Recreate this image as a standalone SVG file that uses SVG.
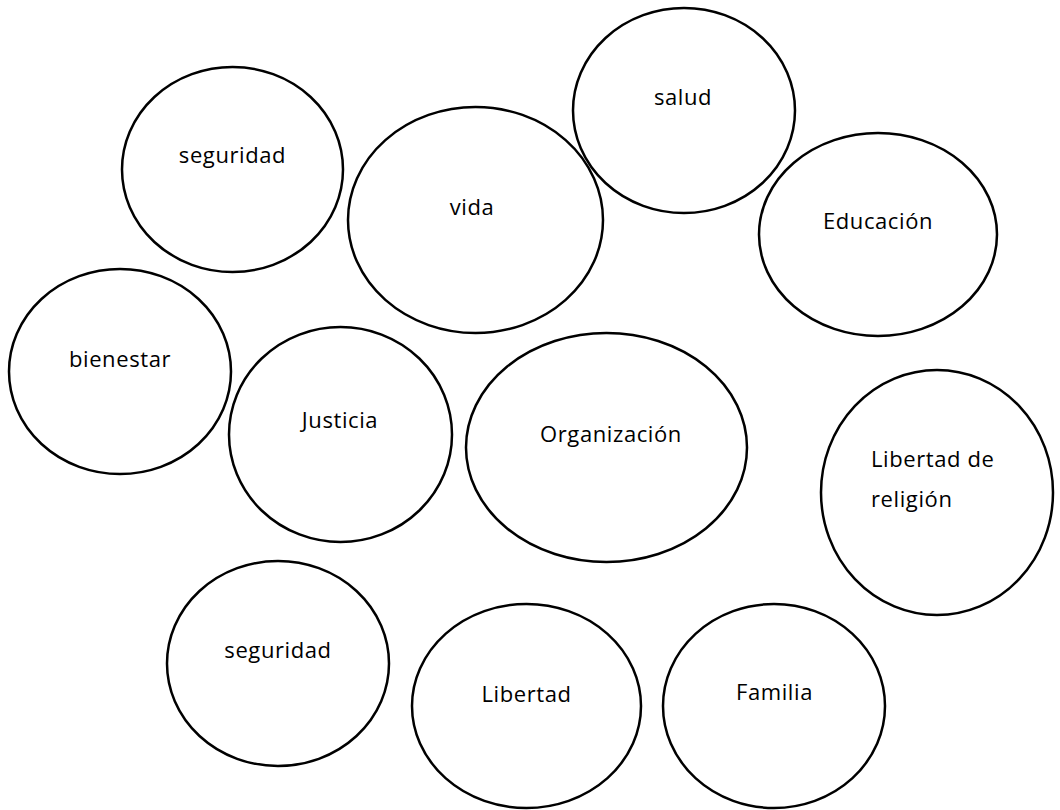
<svg xmlns="http://www.w3.org/2000/svg" width="1060" height="810" viewBox="0 0 1060 810">
<style>
.n{fill:#fff;stroke:#000;stroke-width:2.5}
.t{font-family:"Open Sans","Noto Sans",sans-serif;font-size:22px;letter-spacing:0.6px;fill:#000;text-anchor:middle}
.l{text-anchor:start}
</style>
<rect width="1060" height="810" fill="#fff"/>
<g id="connectors"></g>
<g id="n-seguridad1"><ellipse class="n" cx="232.5" cy="169.5" rx="110.5" ry="102.5"/><text class="t" x="232.5" y="163">seguridad</text></g>
<g id="n-vida"><ellipse class="n" cx="475.5" cy="220" rx="127.5" ry="113"/><text class="t" x="472" y="215">vida</text></g>
<g id="n-salud"><ellipse class="n" cx="684" cy="110.5" rx="111" ry="102.5"/><text class="t" x="683" y="105">salud</text></g>
<g id="n-educacion"><ellipse class="n" cx="878" cy="234.5" rx="119" ry="101.5"/><text class="t" x="878" y="229">Educación</text></g>
<g id="n-bienestar"><ellipse class="n" cx="120" cy="371.5" rx="111" ry="102.5"/><text class="t" x="120" y="367">bienestar</text></g>
<g id="n-justicia"><ellipse class="n" cx="340.5" cy="434.5" rx="111.5" ry="107.5"/><text class="t" x="340" y="428">Justicia</text></g>
<g id="n-organizacion"><ellipse class="n" cx="606.5" cy="447.5" rx="140.5" ry="114.5"/><text class="t" x="611" y="442">Organización</text></g>
<g id="n-religion"><ellipse class="n" cx="937" cy="492.5" rx="116" ry="122.5"/><text class="t l" x="871" y="467">Libertad de</text><text class="t l" x="871" y="507">religión</text></g>
<g id="n-seguridad2"><ellipse class="n" cx="278" cy="663.5" rx="111" ry="102.5"/><text class="t" x="278" y="658">seguridad</text></g>
<g id="n-libertad"><ellipse class="n" cx="526.5" cy="706" rx="114.5" ry="102"/><text class="t" x="526.5" y="702">Libertad</text></g>
<g id="n-familia"><ellipse class="n" cx="774" cy="706" rx="111" ry="102"/><text class="t" x="774.5" y="700">Familia</text></g>
</svg>
